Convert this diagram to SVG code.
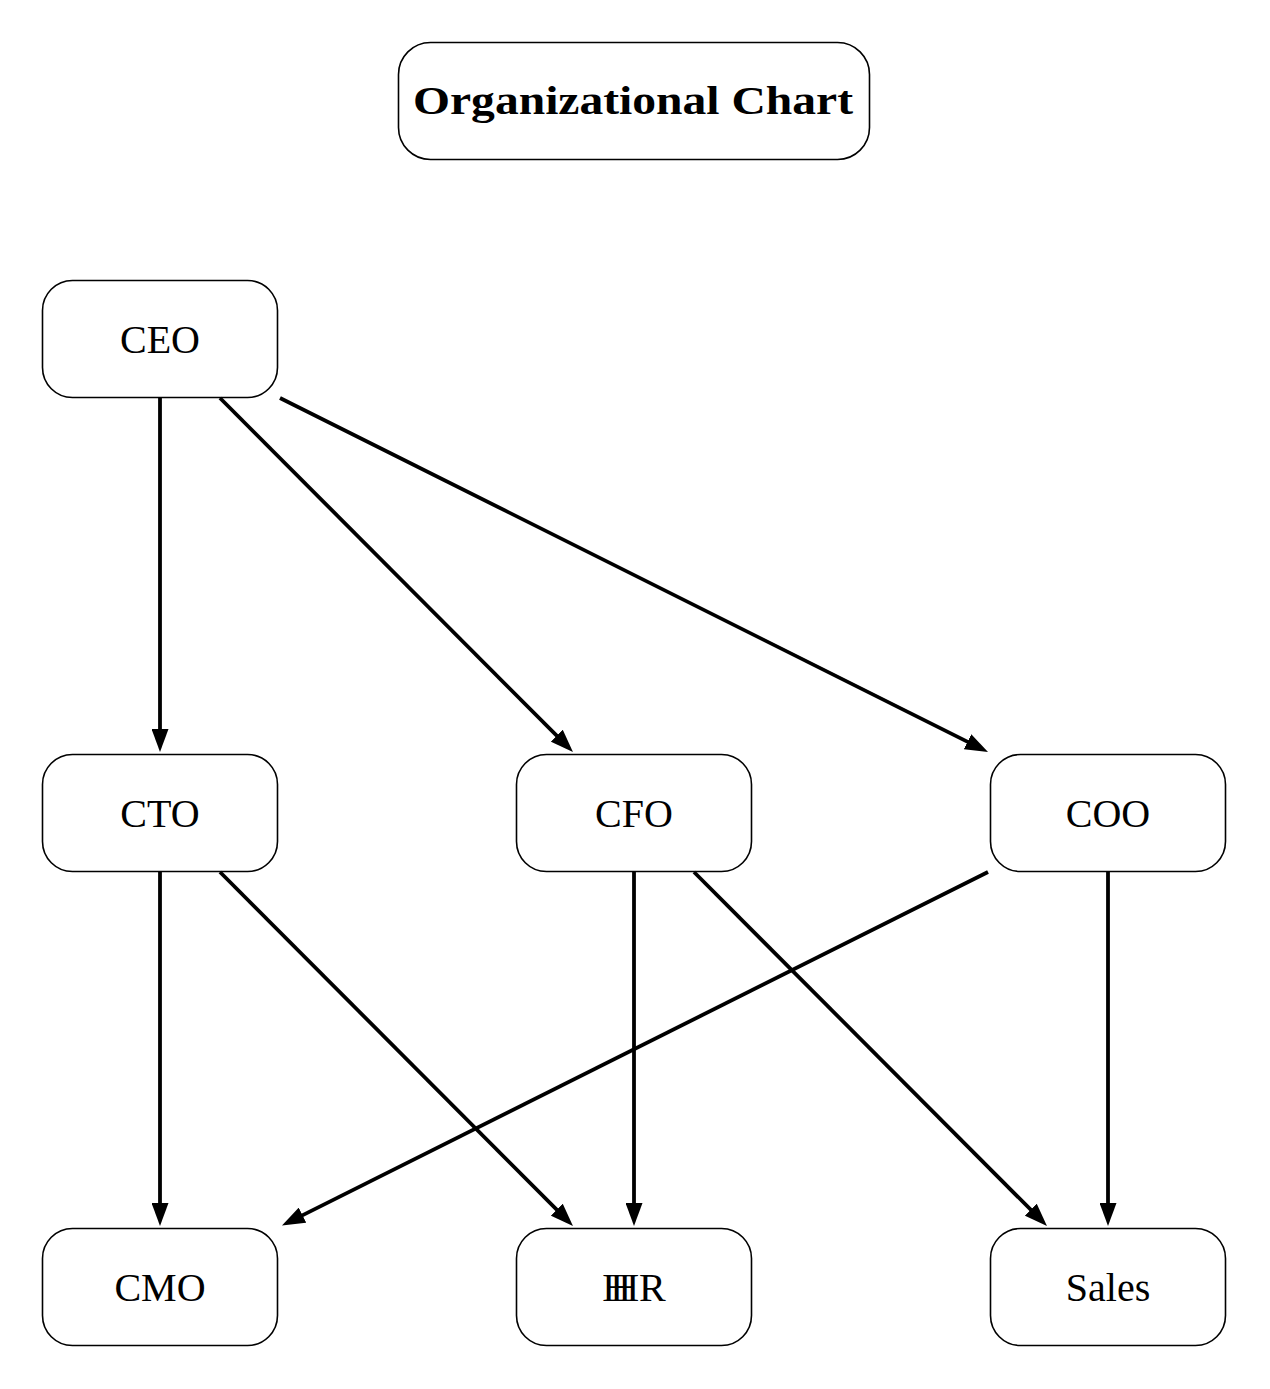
<svg xmlns="http://www.w3.org/2000/svg" width="1270" height="1389" viewBox="0 0 1270 1389">
<style>
.box{fill:#fff;stroke:#000;stroke-width:1.6}
.lbl{font-family:"Liberation Serif","DejaVu Serif",serif;font-size:40px;text-anchor:middle;fill:#000}
.ttl{font-family:"Liberation Serif","DejaVu Serif",serif;font-size:40px;font-weight:bold;fill:#000}
.edge{stroke:#000;stroke-width:3.8;fill:none}
</style>
<defs>
<marker id="arr" markerUnits="userSpaceOnUse" markerWidth="23" markerHeight="17" refX="12" refY="8.5" orient="auto" viewBox="0 0 23 17">
<path d="M0,0 L23,8.5 L0,17 z" fill="#000"/>
</marker>
</defs>
<rect width="1270" height="1389" fill="#fff"/>
<g id="title">
<rect class="box" x="398.5" y="42.5" width="471" height="117" rx="32"/>
<text class="ttl" x="413" y="114" textLength="440" lengthAdjust="spacingAndGlyphs">Organizational Chart</text>
</g>
<g id="ceo"><rect class="box" x="42.5" y="280.5" width="235" height="117" rx="30"/><text class="lbl" x="160" y="353">CEO</text></g>
<g id="cto"><rect class="box" x="42.5" y="754.5" width="235" height="117" rx="30"/><text class="lbl" x="160" y="827">CTO</text></g>
<g id="cfo"><rect class="box" x="516.5" y="754.5" width="235" height="117" rx="30"/><text class="lbl" x="634" y="827">CFO</text></g>
<g id="coo"><rect class="box" x="990.5" y="754.5" width="235" height="117" rx="30"/><text class="lbl" x="1108" y="827">COO</text></g>
<g id="cmo"><rect class="box" x="42.5" y="1228.5" width="235" height="117" rx="30"/><text class="lbl" x="160" y="1301">CMO</text></g>
<g id="hr"><rect class="box" x="516.5" y="1228.5" width="235" height="117" rx="30"/><text class="lbl" x="634" y="1301">H<tspan dx="-21">HR</tspan></text></g>
<g id="sales"><rect class="box" x="990.5" y="1228.5" width="235" height="117" rx="30"/><text class="lbl" x="1108" y="1301">Sales</text></g>
<g id="connectors">
<line class="edge" x1="160" y1="398" x2="160" y2="741" marker-end="url(#arr)"/>
<line class="edge" x1="220" y1="398" x2="565.2" y2="744.2" marker-end="url(#arr)"/>
<line class="edge" x1="280" y1="398" x2="978.2" y2="747.1" marker-end="url(#arr)"/>
<line class="edge" x1="160" y1="872" x2="160" y2="1215" marker-end="url(#arr)"/>
<line class="edge" x1="220" y1="872" x2="565.2" y2="1218.2" marker-end="url(#arr)"/>
<line class="edge" x1="634" y1="872" x2="634" y2="1215" marker-end="url(#arr)"/>
<line class="edge" x1="694" y1="872" x2="1039.2" y2="1218.2" marker-end="url(#arr)"/>
<line class="edge" x1="988" y1="872" x2="291.8" y2="1220.6" marker-end="url(#arr)"/>
<line class="edge" x1="1108" y1="872" x2="1108" y2="1215" marker-end="url(#arr)"/>
</g>
</svg>
